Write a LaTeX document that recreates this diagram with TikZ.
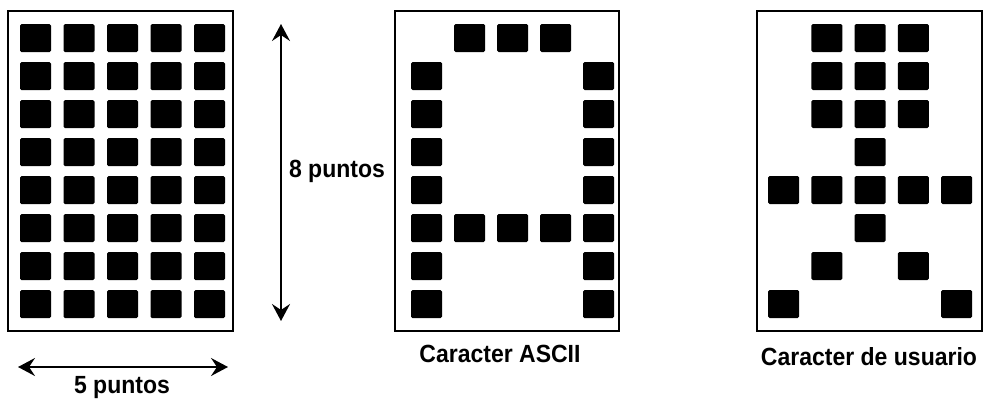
\documentclass[tikz,border=0pt]{standalone}
\usepackage{fontspec}
\setmainfont{Liberation Sans}
\usetikzlibrary{arrows.meta}
\begin{document}
\begin{tikzpicture}[x=1pt,y=-1pt,
  dot/.style={fill=black, rounded corners=1.5pt},
  frame/.style={draw=black, line width=1.8pt},
  lbl/.style={font=\fontsize{23}{23}\selectfont\bfseries, anchor=base, inner sep=0pt, yscale=1.08},
  dim/.style={line width=2pt, {Stealth[length=17pt,width=18pt,inset=6pt]}-{Stealth[length=17pt,width=18pt,inset=6pt]}}]
\useasboundingbox (0,0) rectangle (985,400);
\fill[white] (0,0) rectangle (985,400);
% frames
\draw[frame] (8,11) rectangle (233,331);
\draw[frame] (395,11) rectangle (619,331);
\draw[frame] (757,11) rectangle (982,331);
% full 5x8 grid
\foreach \c in {0,...,4}
  \foreach \r in {0,...,7}
    \fill[dot] ({20+\c*43.5},{24+\r*38}) rectangle ++(31,28);
% ASCII A
\foreach \c/\r in {1/0,2/0,3/0,
  0/1,4/1,0/2,4/2,0/3,4/3,0/4,4/4,
  0/5,1/5,2/5,3/5,4/5,
  0/6,4/6,0/7,4/7}
    \fill[dot] ({411+\c*43},{24+\r*38}) rectangle ++(31,28);
% user character
\foreach \c/\r in {1/0,2/0,3/0,1/1,2/1,3/1,1/2,2/2,3/2,
  2/3,
  0/4,1/4,2/4,3/4,4/4,
  2/5,
  1/6,3/6,
  0/7,4/7}
    \fill[dot] ({768+\c*43.3},{24+\r*38}) rectangle ++(31,28);
% dimension arrows
\coordinate (vtop) at (281,24);
\coordinate (vbot) at (281,321);
\coordinate (hl) at (18,367);
\coordinate (hr) at (228,367);
\draw[dim] (vtop) -- (vbot);
\draw[dim] (hl) -- (hr);
% labels
\node[lbl] (ocho) at (337,177) {8 puntos};
\node[lbl] (cinco) at (122,393) {5 puntos};
\node[lbl] (ascii) at (500,362) {Caracter ASCII};
\node[lbl] (usuario) at (869,365) {Caracter de usuario};
\end{tikzpicture}
\end{document}
